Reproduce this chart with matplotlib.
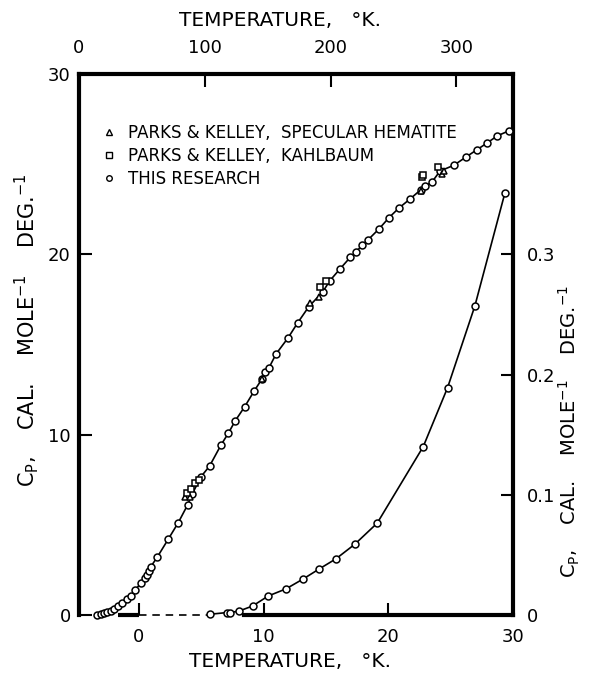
#!/usr/bin/env python3
# Heat capacity of ferric oxide, 0-350 K (top/left scales) and
# the low temperature part 0-30 K (bottom/right scales)

#### IMPORTS ###########################
import matplotlib
matplotlib.use('Agg')
import matplotlib.pyplot as plt
plt.rcParams.update({'font.size': 13, 'font.family': 'DejaVu Sans'})
from matplotlib import rc
rc('mathtext', default='regular')
from matplotlib.lines import Line2D


##### DATA #############################
### This research, 0-350 K (top axis [K], left axis [cal/mol/deg])
hi_T  = [14.6, 17.3, 19.9, 22.5, 25.3, 27.9, 31.3, 34.5, 38.5, 41.2,
         44.6, 49.2, 52.6, 54.4, 55.8, 57.1, 62.4, 70.9, 78.9, 86.3,
         90.0, 97.0, 103.8, 112.9, 118.7, 124.3, 131.7, 139.4, 145.3, 148.2,
         150.8, 156.7, 166.0, 173.9, 182.7, 193.9, 199.2, 207.2, 215.7, 220.5,
         225.2, 229.7, 238.5, 246.5, 254.2, 263.5, 271.5, 275.4, 280.8, 287.0,
         298.0, 307.3, 316.1, 324.1, 332.5, 342.1]
hi_Cp = [0.02, 0.06, 0.09, 0.15, 0.22, 0.33, 0.50, 0.65, 0.87, 1.05,
         1.39, 1.76, 2.04, 2.22, 2.44, 2.68, 3.23, 4.20, 5.12, 6.10,
         6.71, 7.67, 8.26, 9.43, 10.08, 10.78, 11.55, 12.44, 13.07, 13.49,
         13.68, 14.48, 15.35, 16.21, 17.10, 17.93, 18.52, 19.17, 19.84, 20.15,
         20.52, 20.80, 21.41, 22.04, 22.56, 23.09, 23.57, 23.79, 24.03, 24.62,
         24.94, 25.38, 25.79, 26.16, 26.57, 26.86]

### Parks & Kelley, specular hematite (triangles)
spec_T  = [84.5, 88.0, 145.3, 183.8, 190.5, 271.5, 288.5, 290.5]
spec_Cp = [6.56, 6.55, 13.10, 17.29, 17.65, 23.50, 24.45, 24.60]

### Parks & Kelley, Kahlbaum (squares)
kahl_T  = [85.5, 89.0, 92.4, 95.0, 191.2, 196.0, 272.3, 273.6, 285.5]
kahl_Cp = [6.75, 7.00, 7.30, 7.50, 18.17, 18.54, 24.27, 24.40, 24.85]

### This research, 0-30 K (bottom axis [K], right axis [cal/mol/deg])
lo_T  = [5.69, 7.03, 7.30, 8.04, 9.12, 10.37, 11.79, 13.18, 14.46, 15.80,
         17.32, 19.11, 22.8, 24.75, 26.94, 29.35]
lo_Cp = [0.0006, 0.002, 0.002, 0.0033, 0.0075, 0.0158, 0.0217, 0.030, 0.0383, 0.0467,
         0.0589, 0.0764, 0.140, 0.189, 0.257, 0.351]
### Dashed extrapolation towards 0 K
lo_ext_T  = [0.0, 5.69]
lo_ext_Cp = [0.0, 0.0]

### Axis ticks
hi_xticks = [0, 100, 200, 300]
hi_yticks = [0, 10, 20, 30]
lo_xticks = [0, 10, 20, 30]
lo_yticks = [0, 0.1, 0.2, 0.3]
lo_yticklabels = ['0', '0.1', '0.2', '0.3']

leg_labels = ['PARKS & KELLEY,  SPECULAR HEMATITE',
              'PARKS & KELLEY,  KAHLBAUM',
              'THIS RESEARCH']

T_LABEL  = 'TEMPERATURE,   °K.'
CP_LABEL = r'C$_{P}$,    CAL.    MOLE$^{-1}$    DEG.$^{-1}$'

##### STYLE ############################
SPINE_LW = 3.0
LINE_LW  = 1.2
MS       = 5
MEW      = 1.1
# visible pieces of the bottom axis line (bottom axis units)
BOTTOM_SPINE_MAIN  = (8.4, 30)
BOTTOM_SPINE_SHORT = (-1.7, 0)


##### PLOT DATA ######
fig = plt.figure(figsize=(5.91, 6.75), dpi=100)
rect = [79/591, 60/675, 434/591, 541/675]
ax_lo = fig.add_axes(rect)
ax_hi = fig.add_axes(rect, facecolor='none')

# AX_LO (0-30 K, bottom/right)
ax_lo.set_xlim(-4.8, 30)
ax_lo.set_ylim(0, 0.45)
ax_lo.spines['left'].set_visible(False)
ax_lo.spines['top'].set_visible(False)
ax_lo.spines['bottom'].set_linewidth(SPINE_LW)
ax_lo.spines['right'].set_linewidth(SPINE_LW)
ax_lo.spines['bottom'].set_bounds(*BOTTOM_SPINE_MAIN)
ax_lo.plot(BOTTOM_SPINE_SHORT, [0, 0], '-', color='black', lw=SPINE_LW,
           solid_capstyle='butt', clip_on=False, zorder=3)
ax_lo.yaxis.tick_right()
ax_lo.yaxis.set_label_position('right')
ax_lo.set_xticks(lo_xticks)
ax_lo.set_yticks(lo_yticks, labels=lo_yticklabels)
ax_lo.tick_params(axis='both', direction='in', length=9, width=1.5, labelsize=13)
ax_lo.tick_params(axis='x', pad=9)
ax_lo.tick_params(axis='y', pad=10)
ax_lo.set_xlabel(T_LABEL, fontsize=14.5)
ax_lo.xaxis.set_label_coords(0.486, -0.068)
ax_lo.set_ylabel(CP_LABEL, fontsize=14)
ax_lo.yaxis.set_label_coords(1.10, 0.34)

ax_lo.plot(lo_ext_T, lo_ext_Cp, '--', color='black', lw=LINE_LW, dashes=(4.5, 3.5),
           clip_on=False)
ax_lo.plot(lo_T, lo_Cp, '-o', color='black', lw=LINE_LW, ms=MS, mew=MEW,
           mfc='white', mec='black', clip_on=False, zorder=4)

# AX_HI (0-350 K, top/left)
ax_hi.set_xlim(0, 345)
ax_hi.set_ylim(0, 30)
ax_hi.spines['right'].set_visible(False)
ax_hi.spines['bottom'].set_visible(False)
ax_hi.spines['left'].set_linewidth(SPINE_LW)
ax_hi.spines['top'].set_linewidth(SPINE_LW)
ax_hi.xaxis.tick_top()
ax_hi.xaxis.set_label_position('top')
ax_hi.set_xticks(hi_xticks)
ax_hi.set_yticks(hi_yticks)
ax_hi.tick_params(axis='both', direction='in', length=9, width=1.5, labelsize=13)
ax_hi.tick_params(axis='x', pad=12)
ax_hi.tick_params(axis='y', pad=6)
ax_hi.set_xlabel(T_LABEL, fontsize=14.5)
ax_hi.xaxis.set_label_coords(0.463, 1.089)
ax_hi.set_ylabel(CP_LABEL, fontsize=15)
ax_hi.yaxis.set_label_coords(-0.088, 0.527)

ax_hi.plot(hi_T, hi_Cp, '-o', color='black', lw=LINE_LW, ms=MS, mew=MEW,
           mfc='white', mec='black', clip_on=False, zorder=4)
ax_hi.plot(spec_T, spec_Cp, '^', ls='none', ms=MS - 0.5, mew=MEW,
           mfc='white', mec='black', zorder=5)
ax_hi.plot(kahl_T, kahl_Cp, 's', ls='none', ms=MS - 0.5, mew=MEW,
           mfc='white', mec='black', zorder=5)

# Prepare legend
handles = [Line2D([], [], ls='none', marker=m, ms=4, mew=1.0, mfc='white', mec='black')
           for m in ['^', 's', 'o']]
ax_hi.legend(handles, leg_labels, loc='upper left', bbox_to_anchor=(0.058, 0.908),
             frameon=False, fontsize=12, handlelength=0.6, handletextpad=0.8,
             labelspacing=0.3, borderpad=0, borderaxespad=0)

plt.savefig('out.png', dpi=100)
